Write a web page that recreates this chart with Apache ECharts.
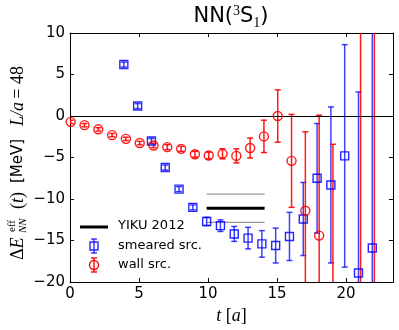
<!DOCTYPE html>
<html>
<head>
<meta charset="utf-8">
<script src="https://cdn.jsdelivr.net/npm/echarts/dist/echarts.min.js"></script>
<style>
  html, body { margin: 0; padding: 0; background: #fff; }
  #main { width: 399px; height: 330px; }
</style>
</head>
<body>
<div id="main"></div>
<script>
// smeared source (blue squares)
var tSmeared = [4, 5, 6, 7, 8, 9, 10, 11, 12, 13, 14, 15, 16, 17, 18, 19, 20, 21, 22];
var eSmeared = [6.2, 1.2, -3.0, -6.2, -8.8, -11.0, -12.7, -13.2, -14.2, -14.7, -15.4, -15.6, -14.5, -12.4, -7.5, -8.3, -4.8, -18.9, -15.9];
var errSmeared = [0.3, 0.3, 0.3, 0.3, 0.3, 0.3, 0.5, 0.7, 0.9, 1.3, 1.6, 2.1, 2.9, 4.4, 6.6, 9.4, 13.4, 21.8, 30];

// wall source (red circles)
var tWall = [0, 1, 2, 3, 4, 5, 6, 7, 8, 9, 10, 11, 12, 13, 14, 15, 16, 17, 18, 19, 21, 22];
var eWall = [-0.7, -1.1, -1.6, -2.3, -2.75, -3.25, -3.55, -3.75, -3.95, -4.6, -4.75, -4.55, -4.8, -3.85, -2.45, 0.0, -5.4, -11.4, -14.4, -22, -25, -25];
var errWall = [0.2, 0.2, 0.2, 0.2, 0.2, 0.2, 0.25, 0.3, 0.3, 0.35, 0.4, 0.6, 0.85, 1.2, 1.95, 3.15, 5.6, 9.5, 14.5, 18.6, 40, 40];

// YIKU 2012 band
var yikuRange = [9.9, 14.1];
var yikuCentral = -11.1;
var yikuError = 1.7;

var xTicks = [0, 5, 10, 15, 20];

var smearedShift = -0.1, wallShift = 0.05;
var blue = '#0000ff', red = '#ff0000';

function rows(ts, vs, es, shift) {
  return ts.map(function (t, i) { return [t + shift, vs[i], es[i]]; });
}
var smearedData = rows(tSmeared, eSmeared, errSmeared, smearedShift);
var wallData = rows(tWall, eWall, errWall, wallShift);

function errorBars(color, opacity) {
  return function (params, api) {
    var x = api.value(0), y = api.value(1), e = api.value(2);
    var top = api.coord([x, y + e]);
    var bot = api.coord([x, y - e]);
    var st = { stroke: color, lineWidth: 1.5, opacity: opacity };
    return {
      type: 'group',
      children: [
        { type: 'line', shape: { x1: top[0], y1: top[1], x2: bot[0], y2: bot[1] }, style: st },
        { type: 'line', shape: { x1: top[0] - 3, y1: top[1], x2: top[0] + 3, y2: top[1] }, style: st },
        { type: 'line', shape: { x1: bot[0] - 3, y1: bot[1], x2: bot[0] + 3, y2: bot[1] }, style: st }
      ]
    };
  };
}

function yikuLine(y, w, c) {
  return {
    type: 'line', data: yikuRange.map(function (t) { return [t, y]; }),
    symbol: 'none', silent: true, z: 3,
    lineStyle: { color: c, width: w }
  };
}

var tickStyle = { inside: true, length: 4, lineStyle: { color: '#000', width: 1 } };
var lineStyle = { onZero: false, lineStyle: { color: '#000', width: 1 } };
var sans = 'DejaVu Sans';
var serif = 'Liberation Serif';
var mathRich = {
  r: { fontFamily: serif, fontSize: 18, fill: '#000' },
  i: { fontFamily: serif, fontStyle: 'italic', fontSize: 18, fill: '#000' }
};

var chart = echarts.init(document.getElementById('main'));
chart.setOption({
  animation: false,
  backgroundColor: '#fff',
  grid: { left: 70, right: 6, top: 33, bottom: 46 },
  xAxis: [
    {
      type: 'value', min: 0, max: 23.4, interval: 5, position: 'bottom',
      axisLine: lineStyle, axisTick: tickStyle, splitLine: { show: false },
      axisLabel: {
        color: '#000', fontFamily: sans, fontSize: 15, margin: 5,
        formatter: function (v) { return xTicks.indexOf(v) >= 0 ? String(v) : ''; }
      },
      name: '{i|t} [{i|a}]', nameLocation: 'middle', nameGap: 18,
      nameTextStyle: {
        color: '#000', fontFamily: serif, fontSize: 18,
        rich: { i: { fontFamily: serif, fontStyle: 'italic', fontSize: 18, color: '#000' } }
      }
    },
    {
      type: 'value', min: 0, max: 23.4, interval: 5, position: 'top',
      axisLine: lineStyle, axisTick: tickStyle, splitLine: { show: false },
      axisLabel: { show: false }
    }
  ],
  yAxis: [
    {
      type: 'value', min: -20, max: 10, interval: 5, position: 'left',
      axisLine: lineStyle, axisTick: tickStyle, splitLine: { show: false },
      axisLabel: {
        color: '#000', fontFamily: sans, fontSize: 15, margin: 5,
        formatter: function (v) { return String(v).replace('-', '\u2212'); }
      }
    },
    {
      type: 'value', min: -20, max: 10, interval: 5, position: 'right',
      axisLine: lineStyle, axisTick: tickStyle, splitLine: { show: false },
      axisLabel: { show: false }
    }
  ],
  series: [
    {
      type: 'line', data: [], silent: true,
      markLine: {
        silent: true, symbol: 'none', animation: false,
        label: { show: false },
        lineStyle: { color: '#000', width: 1, type: 'solid' },
        data: [{ yAxis: 0 }]
      }
    },
    yikuLine(yikuCentral + yikuError, 1, '#7a7a7a'),
    yikuLine(yikuCentral - yikuError, 1, '#7a7a7a'),
    yikuLine(yikuCentral, 3, '#000'),
    {
      type: 'custom', name: 'smeared err', data: smearedData, clip: true, z: 4,
      renderItem: errorBars(blue, 0.75), silent: true
    },
    {
      type: 'scatter', name: 'smeared src.', data: smearedData, symbol: 'rect', symbolSize: 8, z: 5,
      itemStyle: { color: 'rgba(0,0,0,0)', borderColor: blue, borderWidth: 1.4, opacity: 0.85 }
    },
    {
      type: 'custom', name: 'wall err', data: wallData, clip: true, z: 4,
      renderItem: errorBars(red, 0.9), silent: true
    },
    {
      type: 'scatter', name: 'wall src.', data: wallData, symbol: 'circle', symbolSize: 9, z: 5,
      itemStyle: { color: 'rgba(0,0,0,0)', borderColor: red, borderWidth: 1.4, opacity: 0.9 }
    }
  ],
  graphic: [
    // title NN(3S1)
    {
      type: 'text', x: 231, y: 17,
      style: {
        text: '{n|NN(}{sup|3}{n|S}{sub|1}{n|)}', align: 'center', verticalAlign: 'middle',
        rich: {
          n: { fontFamily: sans, fontSize: 21, lineHeight: 26, verticalAlign: 'middle', fill: '#000' },
          sup: { fontFamily: serif, fontSize: 14, lineHeight: 16, verticalAlign: 'top', fill: '#000' },
          sub: { fontFamily: serif, fontSize: 14, lineHeight: 14, verticalAlign: 'bottom', fill: '#000' }
        }
      }
    },
    // y-axis label (rotated)
    {
      type: 'group', x: 18, y: 260, rotation: Math.PI / 2,
      children: [
        { type: 'text', x: 0, y: 0, style: { text: '{r|\u0394}{i|E}', rich: mathRich, verticalAlign: 'middle' } },
        { type: 'text', x: 28, y: -6, style: { text: 'eff', font: '11px "Liberation Serif"', fill: '#000', verticalAlign: 'middle' } },
        { type: 'text', x: 27, y: 5, style: { text: 'NN', font: 'italic 11px "Liberation Serif"', fill: '#000', verticalAlign: 'middle' } },
        { type: 'text', x: 51, y: 0, style: { text: '{r|(}{i|t}{r|)}', rich: mathRich, verticalAlign: 'middle' } },
        { type: 'text', x: 77, y: 0, style: { text: '[MeV]', font: '15px "DejaVu Sans"', fill: '#000', verticalAlign: 'middle' } },
        { type: 'text', x: 134, y: 0, style: { text: '{i|L/a} {r|= 48}', rich: mathRich, verticalAlign: 'middle' } }
      ]
    },
    // legend
    { type: 'line', shape: { x1: 80, y1: 227, x2: 108, y2: 227 }, style: { stroke: '#000', lineWidth: 3 } },
    { type: 'text', left: 118, top: 219, style: { text: 'YIKU 2012', font: '13px "DejaVu Sans"', fill: '#000' } },
    { type: 'line', shape: { x1: 94, y1: 239, x2: 94, y2: 253 }, style: { stroke: blue, lineWidth: 1.5, opacity: 0.75 } },
    { type: 'line', shape: { x1: 91, y1: 239, x2: 97, y2: 239 }, style: { stroke: blue, lineWidth: 1.5, opacity: 0.75 } },
    { type: 'line', shape: { x1: 91, y1: 253, x2: 97, y2: 253 }, style: { stroke: blue, lineWidth: 1.5, opacity: 0.75 } },
    { type: 'rect', shape: { x: 90, y: 242, width: 8, height: 8 }, style: { fill: 'none', stroke: blue, lineWidth: 1.4, opacity: 0.85 } },
    { type: 'text', left: 118, top: 239, style: { text: 'smeared src.', font: '13px "DejaVu Sans"', fill: '#000' } },
    { type: 'line', shape: { x1: 94, y1: 258, x2: 94, y2: 272 }, style: { stroke: red, lineWidth: 1.5, opacity: 0.9 } },
    { type: 'line', shape: { x1: 91, y1: 258, x2: 97, y2: 258 }, style: { stroke: red, lineWidth: 1.5, opacity: 0.9 } },
    { type: 'line', shape: { x1: 91, y1: 272, x2: 97, y2: 272 }, style: { stroke: red, lineWidth: 1.5, opacity: 0.9 } },
    { type: 'circle', shape: { cx: 94, cy: 265, r: 4.5 }, style: { fill: 'none', stroke: red, lineWidth: 1.4 } },
    { type: 'text', left: 118, top: 258, style: { text: 'wall src.', font: '13px "DejaVu Sans"', fill: '#000' } }
  ]
});
</script>
</body>
</html>
